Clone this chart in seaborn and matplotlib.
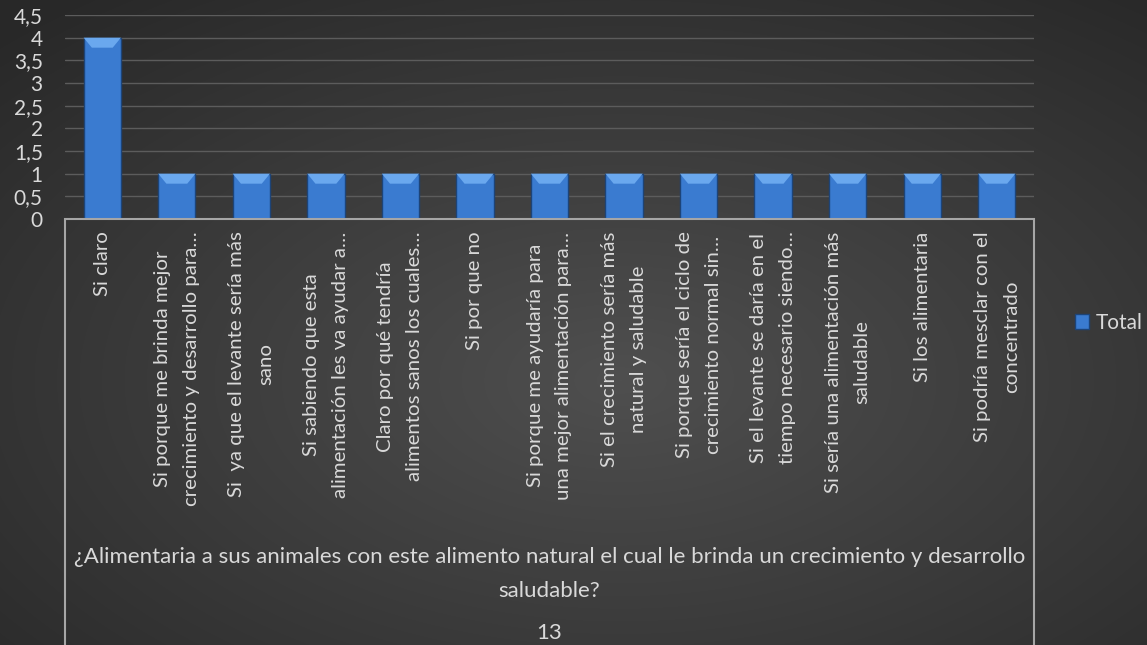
import numpy as np
import pandas as pd
import matplotlib
matplotlib.use("Agg")
import matplotlib.pyplot as plt
import matplotlib.patches as mpatches
from matplotlib.ticker import FuncFormatter, MultipleLocator
import seaborn as sns

# datos de la tabla dinámica
categorias = [
    "Si claro",
    "Si porque me brinda mejor\ncrecimiento y desarrollo para…",
    "Si  ya que el levante sería más\nsano",
    "Si sabiendo que esta\nalimentación les va ayudar a…",
    "Claro por qué tendría\nalimentos sanos los cuales…",
    "Si por que no",
    "Si porque me ayudaría para\nuna mejor alimentación para…",
    "Si el crecimiento sería más\nnatural y saludable",
    "Si porque sería el ciclo de\ncrecimiento normal sin…",
    "Si el levante se daría en el\ntiempo necesario siendo…",
    "Si sería una alimentación más\nsaludable",
    "Si los alimentaria",
    "Si podría mesclar con el\nconcentrado",
]
valores = [4, 1, 1, 1, 1, 1, 1, 1, 1, 1, 1, 1, 1]
serie = "Total"
titulo_eje = ("¿Alimentaria a sus animales con este alimento natural el cual le brinda "
              "un crecimiento y desarrollo\nsaludable?")
pie = "13"

df = pd.DataFrame({"respuesta": categorias, "valor": valores, "serie": serie})

sns.set_style("white")
plt.rcParams['font.family'] = ['Lato', 'DejaVu Sans']
txt = "#d9d9d9"
azul = "#3a7bd0"

W, H = 1147, 645
fig = plt.figure(figsize=(W / 100, H / 100), dpi=100)

# fondo degradado radial (estilo Excel oscuro)
bg = fig.add_axes([0, 0, 1, 1], zorder=-10)
yy, xx = np.mgrid[0:H, 0:W]
r = np.sqrt(((xx - 620) / W) ** 2 + ((yy - 380) / H) ** 2)
r = np.clip(r / 0.75, 0, 1)
gris = 0.31 - 0.15 * r
bg.imshow(np.dstack([gris, gris, gris]), aspect="auto", extent=[0, 1, 0, 1])
bg.axis("off")

x0, x1 = 65 / W, 1034 / W
y0, y1 = 1 - 219 / H, 1 - 15 / H
ax = fig.add_axes([x0, y0, x1 - x0, y1 - y0])
ax.set_facecolor("none")

sns.barplot(data=df, x="respuesta", y="valor", hue="serie", palette=[azul],
            saturation=1, width=0.5, edgecolor="#1d4478", linewidth=1, ax=ax, zorder=3)

ax.set_ylim(0, 4.5)

# bisel claro en la parte superior de cada barra
bisel = 10 / (219 - 15) * 4.5
for p in list(ax.patches):
    bx, bw, top = p.get_x(), p.get_width(), p.get_height()
    if top <= 0:
        continue
    cap = mpatches.Polygon([(bx, top), (bx + bw, top), (bx + bw * 0.78, top - bisel),
                            (bx + bw * 0.22, top - bisel)], closed=True,
                           facecolor="#6aa8ee", edgecolor="none", zorder=4)
    ax.add_patch(cap)

ax.yaxis.set_major_locator(MultipleLocator(0.5))
ax.yaxis.set_major_formatter(FuncFormatter(lambda v, p: f"{v:g}".replace(".", ",")))
ax.grid(axis="y", color="#5c5c5c", linewidth=1, zorder=0)
ax.set_axisbelow(True)
for s in ax.spines.values():
    s.set_visible(False)

ax.tick_params(axis="y", length=0, pad=16, labelsize=15, labelcolor=txt)
ax.tick_params(axis="x", length=0, pad=9)
ax.set_xticks(range(len(categorias)))
ax.set_xticklabels(categorias, rotation=90, ha="center", va="top",
                   multialignment="center", fontsize=14.7, color=txt, linespacing=1.85)
ax.set_xlabel("")
ax.set_ylabel("")

# caja del eje de categorías
caja = mpatches.Rectangle((x0, -0.05), x1 - x0, y0 + 0.05, transform=fig.transFigure,
                          fill=False, edgecolor="#a6a6a6", linewidth=1.5, clip_on=False)
fig.patches.append(caja)

fig.text((x0 + x1) / 2, 1 - 574 / H, titulo_eje, ha="center", va="center",
         fontsize=16, color=txt, linespacing=1.85)
fig.text((x0 + x1) / 2, 1 - 633 / H, pie, ha="center", va="center",
         fontsize=16, color=txt)

leg = ax.legend(loc="center left", bbox_to_anchor=(1056 / W, 1 - 323 / H),
                bbox_transform=fig.transFigure, frameon=False, fontsize=15,
                handlelength=0.7, handleheight=0.7, handletextpad=0.3)
for t in leg.get_texts():
    t.set_color(txt)

fig.savefig("out.png", dpi=100)
